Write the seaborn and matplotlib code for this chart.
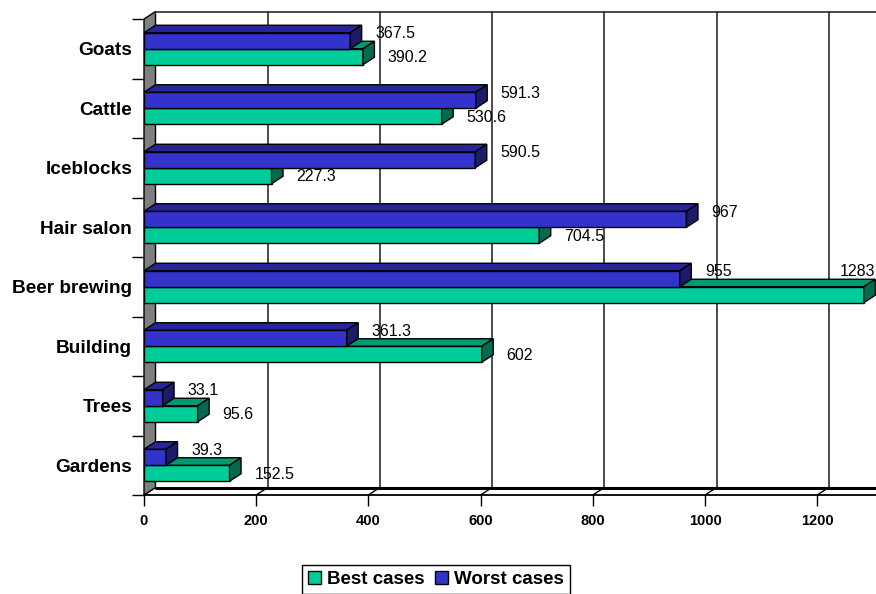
import numpy as np
import pandas as pd
import seaborn as sns
import matplotlib
matplotlib.use("Agg")
import matplotlib.pyplot as plt
from matplotlib.patches import Polygon, Patch

# ---- data -------------------------------------------------------------
categories = ["Goats", "Cattle", "Iceblocks", "Hair salon",
              "Beer brewing", "Building", "Trees", "Gardens"]
best_cases = [390.2, 530.6, 227.3, 704.5, 1283, 602, 95.6, 152.5]
worst_cases = [367.5, 591.3, 590.5, 967, 955, 361.3, 33.1, 39.3]
series_names = ["Best cases", "Worst cases"]
x_ticks = [0, 200, 400, 600, 800, 1000, 1200]

df = pd.DataFrame({
    "Activity": categories * 2,
    "Value": best_cases + worst_cases,
    "Case": [series_names[0]] * len(categories) + [series_names[1]] * len(categories),
})

# ---- style ------------------------------------------------------------
sns.set_theme(style="white")
plt.rcParams["font.family"] = ["Liberation Sans", "DejaVu Sans"]
plt.rcParams["text.color"] = "black"
plt.rcParams["xtick.labelcolor"] = "black"
plt.rcParams["ytick.labelcolor"] = "black"
plt.rcParams["xtick.color"] = "black"
plt.rcParams["ytick.color"] = "black"

colors = {"Best cases": "#00CC99", "Worst cases": "#3333CC"}
top_colors = {"Best cases": "#009972", "Worst cases": "#262699"}
side_colors = {"Best cases": "#006B50", "Worst cases": "#1C1C6B"}

W, H = 876, 594
fig = plt.figure(figsize=(W / 100, H / 100), dpi=100)

PX_PER_UNIT = 0.561
X_MAX = 1400
x0_px, y_top_px, y_bot_px = 144, 19, 495
n_cat = len(categories)
px_per_cat = (y_bot_px - y_top_px) / n_cat

ax = fig.add_axes([x0_px / W, 1 - y_bot_px / H,
                   X_MAX * PX_PER_UNIT / W, (y_bot_px - y_top_px) / H])

# depth of the 3-D effect, in data units
DX = 11.5 / PX_PER_UNIT
DY = 7.5 / px_per_cat

sns.barplot(data=df, x="Value", y="Activity", hue="Case",
            hue_order=["Worst cases", "Best cases"], order=categories,
            palette=colors, saturation=1, width=0.538, orient="h",
            edgecolor="black", linewidth=1, legend=False, ax=ax)

ax.set_xlim(0, X_MAX)
ax.set_ylim(n_cat - 0.5, -0.5)
for s in ax.spines.values():
    s.set_visible(False)
ax.set_xlabel("")
ax.set_ylabel("")

y_top = -0.5
y_bot = n_cat - 0.5

# back wall gridlines and top edge
for v in range(200, X_MAX + 1, 200):
    ax.plot([v + DX, v + DX], [y_top - DY, y_bot - DY], color="#1a1a1a",
            lw=1.1, zorder=1, clip_on=False)
ax.plot([DX, X_MAX + DX], [y_top - DY, y_top - DY], color="#1a1a1a",
        lw=1.1, zorder=1, clip_on=False)

# floor
ax.add_patch(Polygon([(0, y_bot), (X_MAX, y_bot), (X_MAX + DX, y_bot - DY),
                      (DX, y_bot - DY)], closed=True, fc="white", ec="none",
                     zorder=1.5, clip_on=False))
ax.plot([DX, X_MAX + DX], [y_bot - DY, y_bot - DY], color="black", lw=2.2,
        zorder=1.6, clip_on=False)
ax.plot([0, X_MAX], [y_bot, y_bot], color="black", lw=1.3, zorder=1.6,
        clip_on=False)
for v in x_ticks:
    ax.plot([v, v + DX], [y_bot, y_bot - DY], color="black", lw=1,
            zorder=1.6, clip_on=False)

# left wall
ax.add_patch(Polygon([(0, y_top), (DX, y_top - DY), (DX, y_bot - DY), (0, y_bot)],
                     closed=True, fc="#808080", ec="black", lw=1, zorder=2,
                     clip_on=False))

# 3-D faces for each bar
hue_levels = ["Worst cases", "Best cases"]
for level, container in zip(hue_levels, ax.containers):
    z = 6 if level == "Worst cases" else 4
    for rect in container:
        rect.set_zorder(z)
        x0 = rect.get_x()
        w = rect.get_width()
        y = rect.get_y()
        h = rect.get_height()
        top = Polygon([(x0, y), (x0 + w, y), (x0 + w + DX, y - DY), (x0 + DX, y - DY)],
                      closed=True, fc=top_colors[level], ec="black", lw=1,
                      zorder=z, clip_on=False)
        side = Polygon([(x0 + w, y), (x0 + w, y + h), (x0 + w + DX, y + h - DY),
                        (x0 + w + DX, y - DY)],
                       closed=True, fc=side_colors[level], ec="black", lw=1,
                       zorder=z, clip_on=False)
        ax.add_patch(top)
        ax.add_patch(side)

# value labels
LABEL_GAP = 25 / PX_PER_UNIT
label_size = 11.5
em_px = label_size * 100 / 72
for level, container in zip(hue_levels, ax.containers):
    for rect in container:
        v = rect.get_width()
        yc = rect.get_y() + rect.get_height() / 2
        txt = f"{v:g}"
        dy = -7 / px_per_cat if level == "Worst cases" else 1 / px_per_cat
        x_txt = v + LABEL_GAP
        end_px = x0_px + x_txt * PX_PER_UNIT + len(txt) * 0.556 * em_px
        if end_px > W:
            # no room on the right: tuck the label above the bar at the edge
            x_right = (W - 1 - x0_px) / PX_PER_UNIT
            ax.text(x_right, yc - rect.get_height() - 7 / px_per_cat, txt,
                    ha="right", va="center", fontsize=label_size,
                    color="black", zorder=8, clip_on=False)
        else:
            ax.text(x_txt, yc + dy, txt, ha="left", va="center",
                    fontsize=label_size, color="black", zorder=8, clip_on=False)

# axes ticks
ax.set_xticks(x_ticks)
ax.set_xticklabels([str(t) for t in x_ticks], fontweight="bold", fontsize=10.5)
ax.tick_params(axis="x", which="major", bottom=True, length=8, width=1,
               color="black", direction="out", pad=6)
ax.set_yticks(range(n_cat))
ax.set_yticklabels(categories, fontweight="bold", fontsize=13.7)
ax.set_yticks(np.arange(-0.5, n_cat, 1), minor=True)
ax.tick_params(axis="y", which="major", left=False, length=0, pad=8.5)
ax.tick_params(axis="y", which="minor", left=True, length=9, width=1,
               color="black", direction="out")

# legend
handles = [Patch(fc=colors[n], ec="black", lw=1, label=n) for n in series_names]
leg = fig.legend(handles=handles, loc="upper left",
                 bbox_to_anchor=(302 / W, 1 - 565 / H), ncol=2, frameon=True,
                 fancybox=False, edgecolor="black", framealpha=1,
                 prop={"weight": "bold", "size": 13.5},
                 handlelength=0.7, handleheight=0.7, handletextpad=0.32,
                 columnspacing=0.53, borderpad=0.32, borderaxespad=0)
leg.get_frame().set_linewidth(1.0)

fig.savefig("out.png", dpi=100)
